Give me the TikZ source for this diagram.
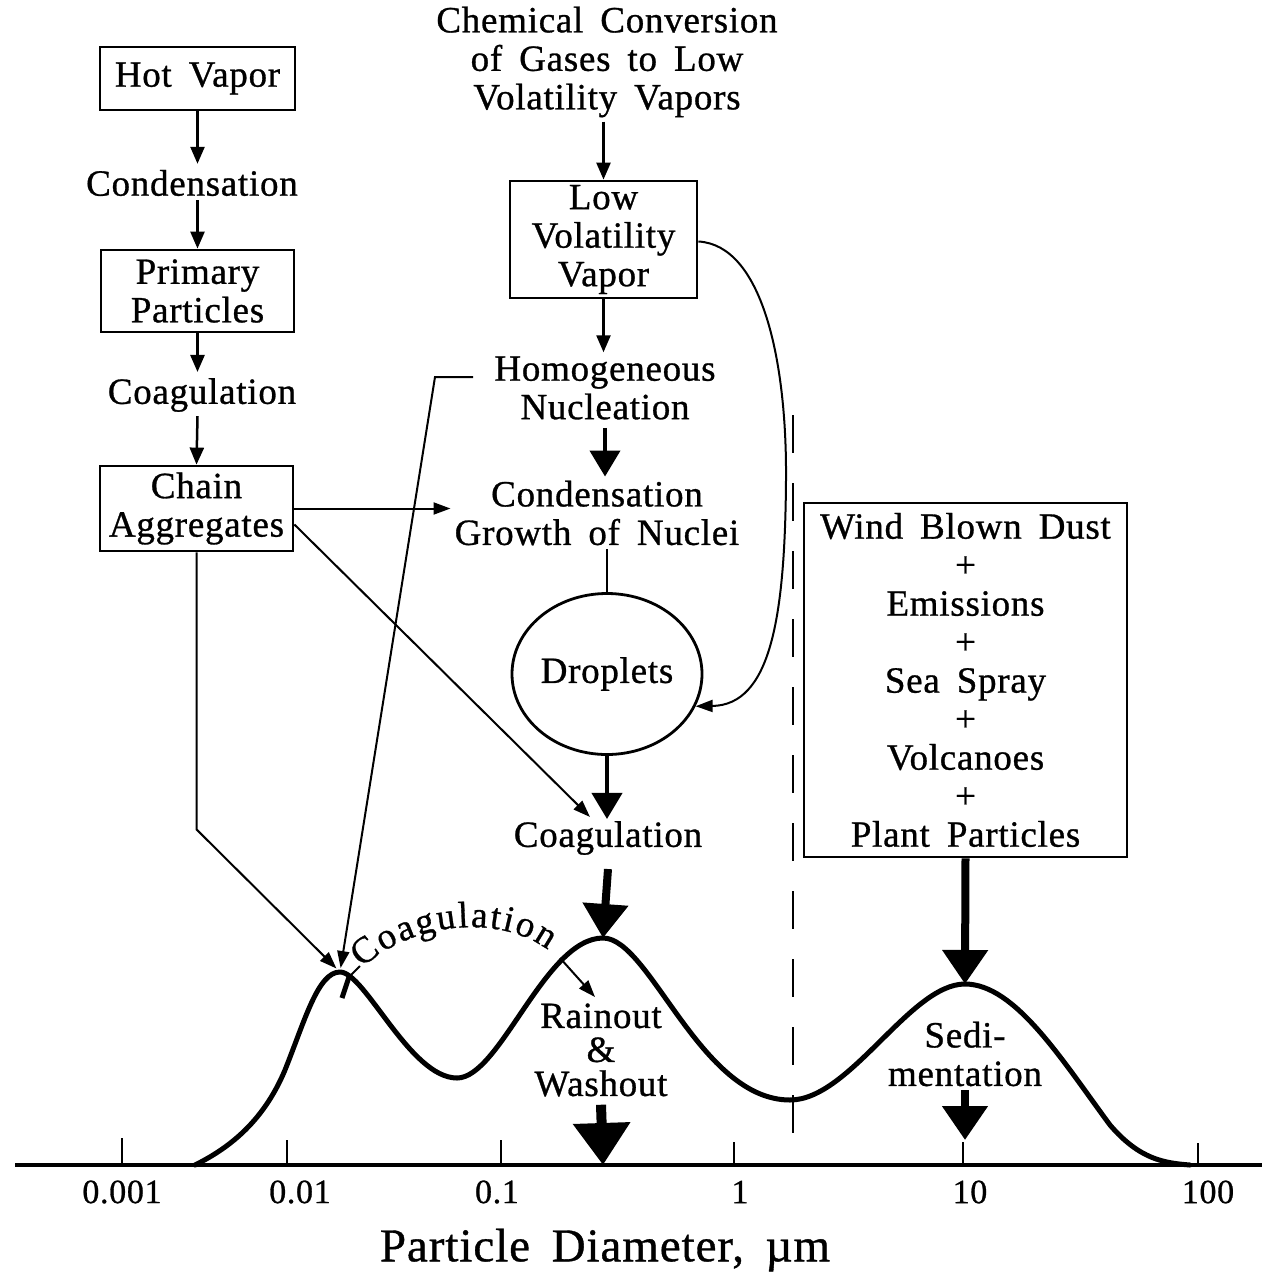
\documentclass[tikz,border=0pt]{standalone}
\usepackage{fontspec}
\setmainfont{Liberation Serif}[WordSpace=1.7,LetterSpace=2,FakeBold=0.8]
\usetikzlibrary{arrows.meta,decorations.text,shapes.geometric}
\newcommand\mfont{\fontsize{37}{38.5}\selectfont}
\newcommand\rfont{\fontsize{37}{34}\selectfont}
\newcommand\cfont{\fontsize{37}{40}\selectfont}
\newcommand\afont{\fontsize{34}{36}\selectfont}
\newcommand\xfont{\fontsize{47}{50}\selectfont}
\begin{document}
\begin{tikzpicture}[x=1pt,y=-1pt,
  txt/.style={font=\mfont, align=center, inner sep=0pt},
  bx/.style={draw, line width=2.8pt, font=\mfont, align=center, inner sep=0pt},
  arr/.style={line width=2.5pt, -{Triangle[length=17pt,width=14pt]}},
  thinarr/.style={line width=2pt, -{Triangle[length=17pt,width=12pt]}},
  bigarr/.style={line width=4pt, -{Triangle[length=26pt,width=30pt]}},
  hugearr/.style={line width=8pt, -{Triangle[length=34pt,width=44pt]}},
  rainarr/.style={line width=10pt, -{Triangle[length=42pt,width=55pt]}},
  tick/.style={line width=2pt},
  axlab/.style={font=\afont, inner sep=0pt}]
\useasboundingbox (0,0) rectangle (1262,1275);

% boxes and texts
\node[bx, minimum width=195pt, minimum height=63pt] (hot) at (197.5,78.5) {Hot Vapor};
\node[txt] (cond1) at (192,183) {Condensation};
\node[bx, minimum width=193pt, minimum height=82pt] (prim) at (197.5,291) {Primary\\Particles};
\node[txt] (coag1) at (202,395) {Coagulation};
\node[bx, minimum width=193pt, minimum height=85pt] (chain) at (196.5,508.5) {Chain\\Aggregates};

\node[txt] (chem) at (607,62) {Chemical Conversion\\of Gases to Low\\Volatility Vapors};
\node[bx, minimum width=187pt, minimum height=117pt] (low) at (603.5,239.5) {Low\\Volatility\\Vapor};
\node[txt] (homo) at (605,388) {Homogeneous\\Nucleation};
\node[txt] (cgrow) at (597,513) {Condensation\\Growth of Nuclei};
\node[draw, ellipse, line width=2.8pt, minimum width=190pt, minimum height=161pt, font=\mfont, inner sep=0pt] (drop) at (607,674) {Droplets};
\node[txt] (coag2) at (608,838) {Coagulation};

\node[bx, minimum width=323pt, minimum height=354pt] (wind) at (965.5,680) {Wind Blown Dust\\+\\Emissions\\+\\Sea Spray\\+\\Volcanoes\\+\\Plant Particles};

\node[txt, font=\rfont] (rain) at (601,1050) {Rainout\\\&\\Washout};
\node[txt] (sedi) at (965,1054) {Sedi-\\mentation};

% curve key points
\coordinate (peak1) at (340,972);
\coordinate (peak2) at (603,938);
\coordinate (peak3) at (965,984);
\coordinate (t10) at (965,1140);
\coordinate (t03) at (603,1165);
\coordinate (hstart) at (473,377);
\coordinate (hbend) at (435,377);
\coordinate (cstart) at (560,958);
\coordinate (cend) at (595,997);

% left chain arrows
\draw[arr] (hot.south) -- ([yshift=6pt]hot.south |- cond1.north);
\draw[arr] ([yshift=-4pt]hot.south |- cond1.south) -- (prim.north);
\draw[arr] (prim.south) -- ([yshift=6pt]prim.south |- coag1.north);
\draw[arr] ([yshift=-4pt]prim.south |- coag1.south) -- (chain.north);

% middle column
\draw[arr] ([yshift=-4pt]low.north |- chem.south) -- (low.north);
\draw[arr] (low.south) -- ([yshift=4pt]low.south |- homo.north);
\draw[bigarr] ([yshift=-8pt]homo.south) -- ([yshift=4pt]homo.south |- cgrow.north);
\draw[line width=2.8pt] ([yshift=-4pt]drop.north |- cgrow.south) -- (drop.north);
\draw[bigarr] (drop.south) -- ([yshift=2pt]drop.south |- coag2.north);
\draw[hugearr] ([yshift=-14pt]coag2.south) -- (peak2);

% curved arrow from low volatility vapor to droplets
\draw[line width=2pt, -{Triangle[length=17pt,width=12pt]}] ([yshift=-2pt]low.east) .. controls (762,245) and (787,360) .. (786,480) .. controls (785,620) and (770,705) .. (drop.-20);

% homogeneous nucleation to first mode
\draw[thinarr, shorten >=4pt] (hstart) -- (hbend) -- (peak1);

% chain aggregates arrows
\draw[thinarr] (chain.east) -- ([xshift=-4pt]chain.east -| cgrow.west);
\draw[thinarr] ([yshift=-16pt]chain.east) -- ([xshift=-18pt,yshift=4pt]coag2.north);
\draw[thinarr, shorten >=5pt] (chain.south) -- ++(0,277) -- (peak1);

% wind blown to third mode
\draw[hugearr] (wind.south) -- (peak3);
\draw[hugearr] ([yshift=-4pt]sedi.south) -- (t10);
\draw[rainarr] ([yshift=-8pt]rain.south) -- (t03);

% dashed divider
\draw[line width=2.5pt, dash pattern=on 38pt off 30pt] (793,415) -- (793,1165);

% size distribution curve
\draw[line width=5pt, line join=round, line cap=round]
  (195,1165) .. controls (225,1150) and (262,1125) .. (285,1070)
  .. controls (305,1020) and (318,972) .. (peak1)
  .. controls (365,972) and (410,1078) .. (457,1078)
  .. controls (500,1078) and (545,938) .. (peak2)
  .. controls (650,938) and (700,1100) .. (790,1100)
  .. controls (850,1100) and (910,984) .. (peak3)
  .. controls (1015,984) and (1062,1060) .. (1110,1125)
  .. controls (1140,1160) and (1165,1163) .. (1190,1165);

% coagulation between modes
\draw[line width=5pt] (342,998) -- (349,977);
\draw[line width=2pt] (349,977) -- (360,966);
\path[decorate, decoration={text along path, text={|\cfont|Coagulation}, text align=fit to path}]
  (362,968) .. controls (413,921) and (500,914) .. (548,950);
\draw[thinarr] (cstart) -- (cend);

% axis
\draw[line width=4pt] (15,1165) -- (1262,1165);
\draw[tick] (122,1138) -- (122,1165);
\draw[tick] (287,1140) -- (287,1165);
\draw[tick] (501,1140) -- (501,1165);
\draw[tick] (734,1142) -- (734,1165);
\draw[tick] (963,1142) -- (963,1165);
\draw[tick] (1198,1143) -- (1198,1165);
\node[axlab] (l1) at (122,1192) {0.001};
\node[axlab] (l2) at (300,1192) {0.01};
\node[axlab] (l3) at (497,1192) {0.1};
\node[axlab] (l4) at (740,1192) {1};
\node[axlab] (l5) at (970,1192) {10};
\node[axlab] (l6) at (1208,1192) {100};
\node[font=\xfont, inner sep=0pt] (xlab) at (605,1250) {Particle Diameter, µm};
\end{tikzpicture}
\end{document}
